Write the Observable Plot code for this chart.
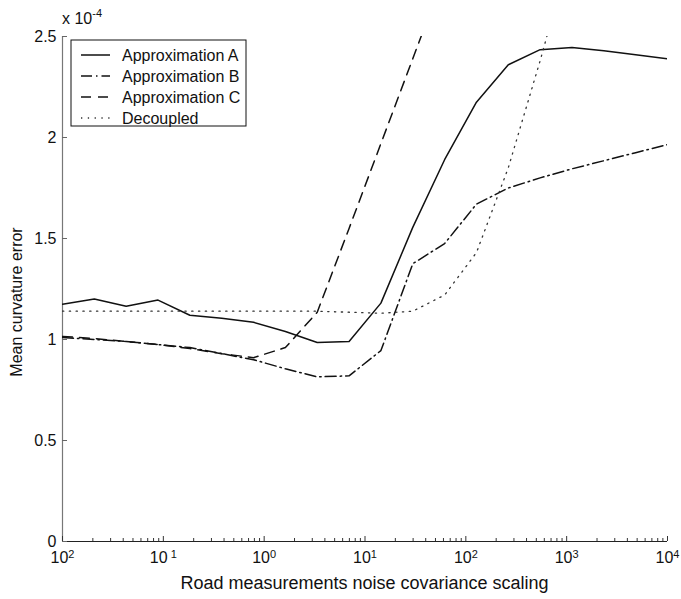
<!DOCTYPE html>
<html><head><meta charset="utf-8">
<script src="https://cdn.jsdelivr.net/npm/d3@7"></script>
<script src="https://cdn.jsdelivr.net/npm/@observablehq/plot@0.6"></script>
<style>
body{margin:0;background:#fff;}
#chart{width:681px;height:599px;}
</style>
</head><body><div id="chart"></div>
<script>
// x sample points (noise covariance scaling)
const xValues = [0.01, 0.02069, 0.04281, 0.08859, 0.1833, 0.3793, 0.7848, 1.624, 3.360, 6.952,
                 14.38, 29.76, 61.58, 127.4, 263.7, 545.6, 1129, 2336, 4833, 10000];
// series values in units of 1e-4
const approxA = [1.175, 1.20, 1.165, 1.195, 1.12, 1.105, 1.085, 1.04, 0.985, 0.99,
                 1.18, 1.555, 1.89, 2.175, 2.36, 2.435, 2.445, 2.43, 2.41, 2.39];
const approxB = [1.01, 1.00, 0.99, 0.975, 0.96, 0.93, 0.90, 0.855, 0.815, 0.82,
                 0.945, 1.375, 1.475, 1.67, 1.75, 1.80, 1.845, 1.885, 1.925, 1.965];
const approxC = [1.015, 1.005, 0.99, 0.975, 0.955, 0.93, 0.91, 0.96, 1.135, 1.55,
                 1.97, 2.39, 2.81];
const decoupled = [1.14, 1.14, 1.14, 1.14, 1.14, 1.14, 1.14, 1.14, 1.14, 1.135,
                   1.13, 1.14, 1.22, 1.43, 1.85, 2.38, 2.95];
const seriesNames = ["Approximation A", "Approximation B", "Approximation C", "Decoupled"];
const seriesDash = [null, "11,4,1.5,4", "10,7", "1.3,5.5"];
const seriesWidth = [1.5, 1.5, 1.5, 1.3];
const seriesColor = ["#111", "#111", "#111", "#333"];

// axis ticks
const xTicks = [0.01, 0.1, 1, 10, 100, 1000, 10000];
const xTickExponents = ["2", "\u00a01", "0", "1", "2", "3", "4"];
const xMinorTicks = xTicks.slice(0, -1).flatMap(t => [2,3,4,5,6,7,8,9].map(m => t * m));
const yTicks = [0, 0.5, 1, 1.5, 2, 2.5];
const yTickLabels = ["0", "0.5", "1", "1.5", "2", "2.5"];

const allSeries = [approxA, approxB, approxC, decoupled];
const font = "'Liberation Sans', Arial, sans-serif";

const lineMarks = allSeries.map((vals, si) =>
  Plot.line(vals.map((v, i) => ({x: xValues[i], y: v})), {
    x: "x", y: "y", stroke: seriesColor[si], strokeWidth: seriesWidth[si],
    strokeDasharray: seriesDash[si], clip: true, curve: "linear"
  })
);

const plot = Plot.plot({
  width: 681, height: 599,
  marginLeft: 62, marginRight: 14, marginTop: 36, marginBottom: 58,
  style: {fontFamily: font, fontSize: "16px", color: "#111", background: "white", overflow: "visible"},
  x: {type: "log", domain: [0.01, 10000]},
  y: {domain: [0, 2.5]},
  marks: [
    Plot.ruleX([0.01], {stroke: "#777", strokeWidth: 1.2}),
    Plot.ruleY([0], {stroke: "#222", strokeWidth: 1.2}),
    Plot.axisX(xMinorTicks, {tickSize: -3, tickFormat: () => "", label: null, stroke: "#333"}),
    Plot.axisX(xTicks, {tickSize: -5, tickFormat: () => "", label: null, stroke: "#333"}),
    Plot.axisX(xTicks, {tickSize: 0, tickPadding: 10, tickFormat: () => "10", label: null, fill: "#111"}),
    Plot.axisY(yTicks, {tickSize: -5, tickPadding: 11, tickFormat: d => yTickLabels[yTicks.indexOf(d)], label: null, stroke: "#666", fill: "#111"}),
    ...lineMarks
  ]
});
document.getElementById("chart").appendChild(plot);

const svg = d3.select(plot);
// superscript exponents on x tick labels (skip the empty labels of the tick-only axes)
let k = 0;
svg.selectAll('g[aria-label="x-axis tick label"] text').each(function() {
  const t = d3.select(this);
  if (t.text() !== "10") { t.remove(); return; }
  t.style("white-space", "pre");
  t.append("tspan").attr("dy", "-0.45em").attr("font-size", "11px").text(xTickExponents[k++]);
});

// scale factor label
const sf = svg.append("text").attr("x", 62).attr("y", 24).attr("font-size", 16).attr("fill", "#111")
  .attr("font-family", font).attr("text-anchor", "start");
sf.append("tspan").text("x 10");
sf.append("tspan").attr("dy", -7).attr("font-size", 11).text("-4");

// axis titles
svg.append("text").attr("x", (62 + 667) / 2).attr("y", 589).attr("text-anchor", "middle")
  .attr("font-size", 18).attr("fill", "#111").attr("font-family", font)
  .text("Road measurements noise covariance scaling");
svg.append("text").attr("transform", "translate(22,302) rotate(-90)").attr("text-anchor", "middle")
  .attr("font-size", 16).attr("fill", "#111").attr("font-family", font)
  .text("Mean curvature error");

// legend
const lg = svg.append("g").attr("text-anchor", "start");
lg.append("rect").attr("x", 71).attr("y", 40).attr("width", 175).attr("height", 86)
  .attr("fill", "white").attr("stroke", "#111").attr("stroke-width", 1);
seriesNames.forEach((name, i) => {
  const yy = 55 + i * 21;
  lg.append("line").attr("x1", 81).attr("x2", 110).attr("y1", yy).attr("y2", yy)
    .attr("stroke", seriesColor[i]).attr("stroke-width", seriesWidth[i])
    .attr("stroke-dasharray", seriesDash[i]);
  lg.append("text").attr("x", 122).attr("y", yy).attr("dy", "0.35em").attr("text-anchor", "start")
    .attr("font-size", 16).attr("fill", "#111").attr("font-family", font).text(name);
});
</script>
</body></html>
